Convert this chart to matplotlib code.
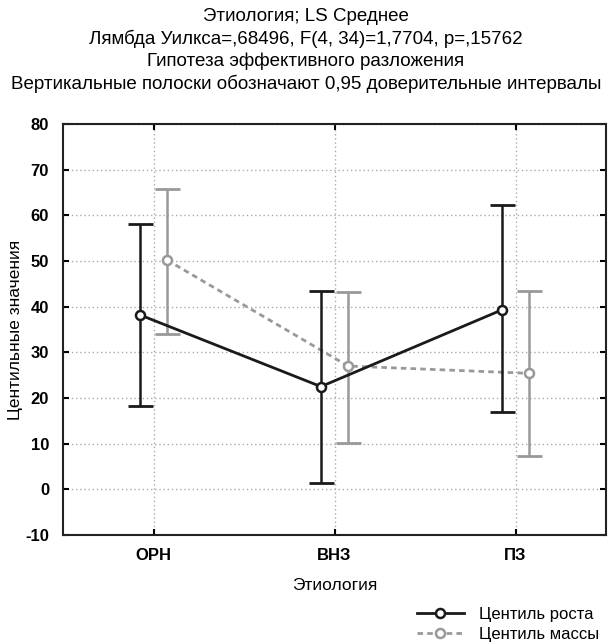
import matplotlib
matplotlib.use('Agg')
import matplotlib.pyplot as plt
import numpy as np

plt.rcParams['font.family'] = ['Liberation Sans', 'DejaVu Sans']
plt.rcParams['axes.unicode_minus'] = False

categories = ['ОРН', 'ВНЗ', 'ПЗ']
height_mean = [38.2, 22.5, 39.3]
height_low = [18.2, 1.3, 16.9]
height_high = [58.0, 43.5, 62.2]
mass_mean = [50.2, 27.0, 25.4]
mass_low = [34.0, 10.2, 7.3]
mass_high = [65.8, 43.2, 43.4]

title = ('Этиология; LS Среднее\n'
         'Лямбда Уилкса=,68496, F(4, 34)=1,7704, p=,15762\n'
         'Гипотеза эффективного разложения\n'
         'Вертикальные полоски обозначают 0,95 доверительные интервалы')

BLACK = '#1a1a1a'
GREY = '#999999'

fig = plt.figure(figsize=(6.12, 6.44), dpi=100)
ax = fig.add_axes([63 / 612, 1 - 535 / 644, (606 - 63) / 612, (535 - 124) / 644])

x = np.arange(1, len(categories) + 1)
off = 0.075

hm = np.array(height_mean)
ax.errorbar(x - off, hm, yerr=[hm - np.array(height_low), np.array(height_high) - hm],
            fmt='none', ecolor=BLACK, capsize=9, capthick=2, elinewidth=1.8, zorder=3)
mm = np.array(mass_mean)
ax.errorbar(x + off, mm, yerr=[mm - np.array(mass_low), np.array(mass_high) - mm],
            fmt='none', ecolor=GREY, capsize=9, capthick=2, elinewidth=1.8, zorder=2)

ax.plot(x + off, mm, color=GREY, lw=2, ls=(0, (2, 1.5)), marker='o', ms=6.5,
        mfc='white', mec=GREY, mew=1.8, label='Центиль массы', zorder=2.5)
ax.plot(x - off, hm, color=BLACK, lw=2, marker='o', ms=6.5,
        mfc='white', mec=BLACK, mew=1.8, label='Центиль роста', zorder=3.5)

ax.set_xlim(0.5, 3.5)
ax.set_ylim(-10, 80)
ax.set_yticks(range(-10, 90, 10))
ax.set_xticks(x)
ax.set_xticklabels(categories, fontweight='bold', fontsize=12)
for t in ax.get_yticklabels():
    t.set_fontweight('bold')
    t.set_fontsize(12)
ax.tick_params(direction='in', length=4, width=1.5, top=True, right=True, pad=10)
ax.tick_params(axis='x', pad=9)
ax.grid(True, color='#aaaaaa', ls=(0, (1, 2)), lw=1)
for s in ax.spines.values():
    s.set_linewidth(1.5)
    s.set_color('#222222')

ax.set_xlabel('Этиология', fontsize=12.5, labelpad=11)
ax.set_ylabel('Центильные значения', fontsize=12.5)
ax.yaxis.set_label_coords(-40 / 543, 0.5)
fig.text(0.5, 1 - 8 / 644, title, ha='center', va='top', fontsize=13.5, linespacing=1.34)

handles, labels = ax.get_legend_handles_labels()
fig.legend(handles[::-1], labels[::-1], loc='lower right', bbox_to_anchor=(0.995, -0.012),
           frameon=False, fontsize=12, handlelength=2.8, handletextpad=0.9,
           labelspacing=0.3, borderaxespad=0.2)

fig.savefig('out.png', dpi=100)
